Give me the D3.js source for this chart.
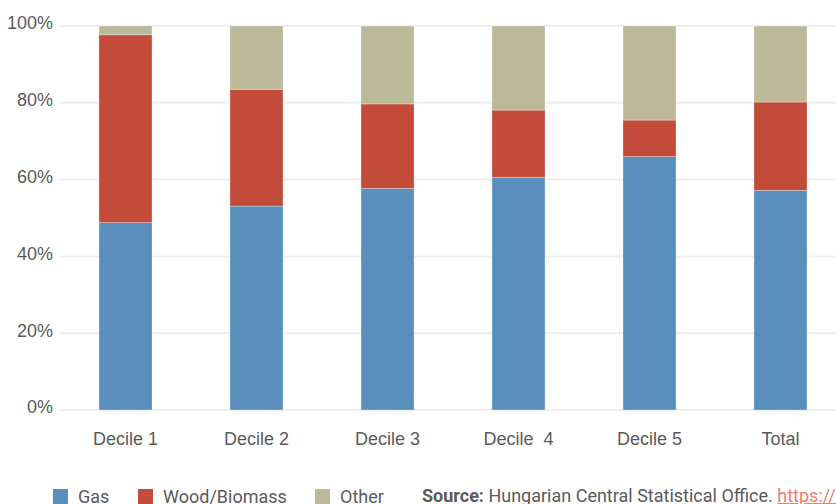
<!DOCTYPE html>
<html>
<head>
<meta charset="utf-8">
<script src="https://cdn.jsdelivr.net/npm/d3@7"></script>
<style>
  body { margin: 0; background: #fff; }
  svg { display: block; font-family: Roboto, "DejaVu Sans", sans-serif; }
  .tick text { fill: #5a5a5a; font-size: 18px; }
  .grid line { stroke: #eeeeee; stroke-width: 2; }
  .legend text { fill: #5a5a5a; font-size: 18px; }
</style>
</head>
<body>
<div id="chart"></div>
<script>
var width = 836, height = 504
var margin = {left: 60, right: -10, top: 26, bottom: 94}

// values (percent of households)
const categories = ["Decile 1", "Decile 2", "Decile 3", "Decile\u00a0 4", "Decile 5", "Total"]
const gas = [48.8, 53.1, 57.7, 60.6, 66.0, 57.2]
const wood = [48.9, 30.4, 22.0, 17.5, 9.5, 23.0]
const other = [2.3, 16.5, 20.3, 21.9, 24.5, 19.8]
const yTicks = [0, 20, 40, 60, 80, 100]

const seriesNames = ["Gas", "Wood/Biomass", "Other"]
const colors = ["#5a8fbd", "#c24b3a", "#bcb99a"]

var rows = categories.map(function(c, i) {
    return {cat: c, "Gas": gas[i], "Wood/Biomass": wood[i], "Other": other[i]}
})
var stacked = d3.stack().keys(seriesNames)(rows)

var xScale = d3.scaleBand()
    .domain(categories)
    .range([margin.left, width - margin.right])
    .paddingInner(0.595)
    .paddingOuter(0.2975)

var yScale = d3.scaleLinear()
    .domain([0, 100])
    .range([height - margin.bottom, margin.top])

var svg = d3.select("#chart")
    .append("svg")
    .attr("width", width)
    .attr("height", height)

// gridlines
svg.append("g")
    .attr("class", "grid")
    .selectAll("line")
    .data(yTicks)
    .enter()
    .append("line")
        .attr("x1", margin.left)
        .attr("x2", width)
        .attr("y1", d => yScale(d))
        .attr("y2", d => yScale(d))

// left axis labels
var yAxis = d3.axisLeft(yScale)
    .tickValues(yTicks)
    .tickSize(0)
    .tickPadding(7)
    .tickFormat(d => d + "%")
var gy = svg.append("g")
    .attr("transform", "translate(" + margin.left + ",0)")
    .call(yAxis)
gy.select(".domain").remove()
gy.selectAll("text").attr("dy", "0.16em")

// bars
svg.append("g")
    .selectAll("g")
    .data(stacked)
    .enter()
    .append("g")
        .attr("fill", (d, i) => colors[i])
    .selectAll("rect")
    .data(d => d)
    .enter()
    .append("rect")
        .attr("x", d => xScale(d.data.cat))
        .attr("y", d => yScale(d[1]))
        .attr("width", xScale.bandwidth())
        .attr("height", d => yScale(d[0]) - yScale(d[1]))
        .attr("stroke", "#ffffff")
        .attr("stroke-opacity", 0.35)
        .attr("stroke-width", 0.8)

// bottom axis labels
var xAxis = d3.axisBottom(xScale).tickSize(0).tickPadding(22)
var gx = svg.append("g")
    .attr("transform", "translate(0," + (height - margin.bottom) + ")")
    .call(xAxis)
gx.select(".domain").remove()
gx.selectAll("text").style("white-space", "pre")

// legend (cut at the bottom edge, as in the original)
var legendX = [53, 138, 315]
var legend = svg.append("g").attr("class", "legend")
seriesNames.forEach(function(name, i) {
    legend.append("rect")
        .attr("x", legendX[i])
        .attr("y", 489)
        .attr("width", 15)
        .attr("height", 15)
        .attr("fill", colors[i])
    legend.append("text")
        .attr("x", legendX[i] + 25)
        .attr("y", 503)
        .text(name)
})

// source note
var src = legend.append("text")
    .attr("x", 422)
    .attr("y", 502)
src.append("tspan").attr("font-weight", "bold").text("Source:")
src.append("tspan").text(" Hungarian Central Statistical Office. ")
src.append("tspan")
    .attr("fill", "#f07b6e")
    .attr("text-decoration", "underline")
    .text("https://www.ksh.hu")
</script>
</body>
</html>
